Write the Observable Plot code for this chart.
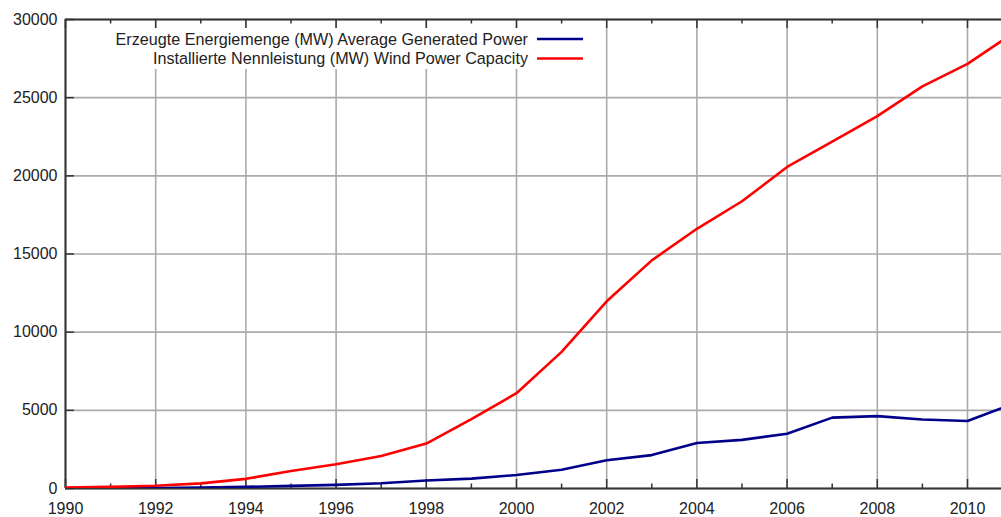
<!DOCTYPE html>
<html>
<head>
<meta charset="utf-8">
<script src="https://cdn.jsdelivr.net/npm/d3@7"></script>
<script src="https://cdn.jsdelivr.net/npm/@observablehq/plot@0.6"></script>
<style>
  html, body { margin: 0; padding: 0; background: #fff; }
  #wrap { position: relative; width: 1001px; height: 517px; overflow: hidden; }
  #legend { position: absolute; left: 0; top: 0; }
</style>
</head>
<body>
<div id="wrap"></div>
<script>
// ---- data ----
const years = [1990,1991,1992,1993,1994,1995,1996,1997,1998,1999,2000,2001,2002,2003,2004,2005,2006,2007,2008,2009,2010,2011];
const generatedPower = [8,11,31,68,104,171,232,339,512,631,862,1200,1802,2136,2912,3108,3506,4533,4632,4411,4314,5400];
const installedCapacity = [55,106,174,326,618,1121,1546,2080,2871,4439,6097,8738,11976,14594,16612,18375,20568,22183,23815,25720,27157,29100];
const seriesNames = [
  "Erzeugte Energiemenge (MW) Average Generated Power",
  "Installierte Nennleistung (MW) Wind Power Capacity"
];
const seriesColors = ["#00008b", "#ff0000"];
const xTickYears = [1990,1992,1994,1996,1998,2000,2002,2004,2006,2008,2010];
const xMinorYears = [1991,1993,1995,1997,1999,2001,2003,2005,2007,2009];
const yTicks = [0,5000,10000,15000,20000,25000,30000];
const xDomain = [1990, 2010.754];
const yDomain = [0, 30000];

// ---- table ----
const rows = [];
years.forEach((yr, i) => {
  rows.push({year: yr, value: generatedPower[i], series: seriesNames[0]});
  rows.push({year: yr, value: installedCapacity[i], series: seriesNames[1]});
});

const W = 1001, H = 517, mt = 19, mb = 29, ml = 65, mr = 0;
const innerH = H - mt - mb, innerW = W - ml - mr;
const frameColor = "#333";
const gridColor = "#aaaaaa";

const chart = Plot.plot({
  width: W, height: H,
  marginTop: mt, marginBottom: mb, marginLeft: ml, marginRight: mr,
  style: {fontFamily: "Liberation Sans, Arial, sans-serif", fontSize: "16px", color: "#222", background: "#fff"},
  x: {domain: xDomain, ticks: xTickYears, tickSize: 0, tickPadding: 14, tickFormat: d => String(d), label: null},
  y: {domain: yDomain, ticks: yTicks, tickSize: 0, tickPadding: 8, tickFormat: d => String(d), label: null},
  color: {domain: seriesNames, range: seriesColors},
  marks: [
    // grid
    Plot.ruleX(xTickYears, {stroke: gridColor, strokeWidth: 1.6}),
    Plot.ruleY(yTicks, {stroke: gridColor, strokeWidth: 1.6}),
    // ticks (inward)
    Plot.ruleX(xTickYears, {stroke: frameColor, strokeWidth: 1.5, insetTop: innerH - 9}),
    Plot.ruleX(xTickYears, {stroke: frameColor, strokeWidth: 1.5, insetBottom: innerH - 9}),
    Plot.ruleX(xMinorYears, {stroke: frameColor, strokeWidth: 1.5, insetTop: innerH - 4.5}),
    Plot.ruleX(xMinorYears, {stroke: frameColor, strokeWidth: 1.5, insetBottom: innerH - 4.5}),
    Plot.ruleY(yTicks, {stroke: frameColor, strokeWidth: 1.5, insetRight: innerW - 9}),
    // frame (top, bottom, left)
    Plot.ruleY(yDomain, {stroke: frameColor, strokeWidth: 2}),
    Plot.ruleX([xDomain[0]], {stroke: frameColor, strokeWidth: 2}),
    // data
    Plot.line(rows, {x: "year", y: "value", z: "series", stroke: "series", strokeWidth: 2.6, clip: true})
  ]
});

const wrap = document.getElementById("wrap");
wrap.appendChild(chart);

// ---- legend (overlay with white box) ----
const leg = d3.select(wrap).append("svg")
  .attr("id", "legend")
  .attr("width", W).attr("height", 90)
  .style("font-family", "Liberation Sans, Arial, sans-serif")
  .style("font-size", "16.15px");
leg.append("rect").attr("x", 100).attr("y", 28).attr("width", 490).attr("height", 41).attr("fill", "#fff");
seriesNames.forEach((name, i) => {
  const cy = 39 + i * 19.5;
  leg.append("text")
    .attr("x", 528).attr("y", cy).attr("dy", "0.36em")
    .attr("text-anchor", "end").attr("fill", "#222")
    .text(name);
  leg.append("line")
    .attr("x1", 537).attr("x2", 583).attr("y1", cy).attr("y2", cy)
    .attr("stroke", seriesColors[i]).attr("stroke-width", 2.6);
});
</script>
</body>
</html>
